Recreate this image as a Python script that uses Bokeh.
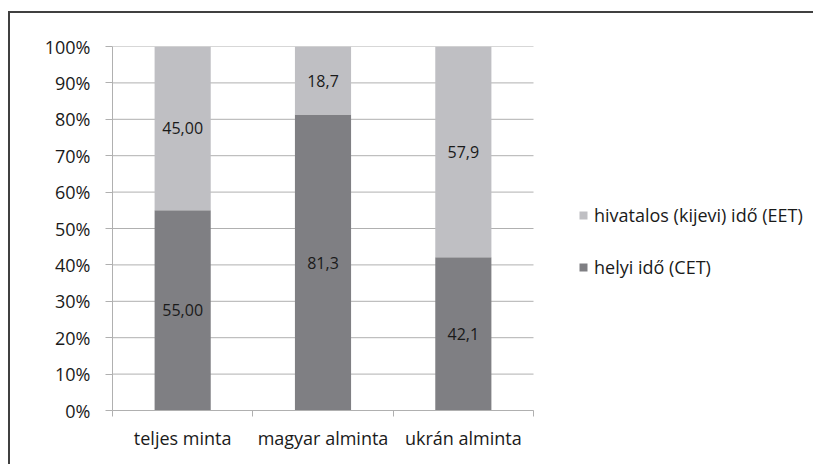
from bokeh.plotting import figure
from bokeh.models import (ColumnDataSource, FixedTicker, PrintfTickFormatter,
                          Legend, LegendItem, Range1d)
from bokeh.core.properties import value
from bokeh.embed import file_html
from bokeh.resources import INLINE

categories = ["teljes minta", "magyar alminta", "ukrán alminta"]
helyi = [55.00, 81.3, 42.1]
hivatalos = [45.00, 18.7, 57.9]
helyi_labels = ["55,00", "81,3", "42,1"]
hivatalos_labels = ["45,00", "18,7", "57,9"]
series_names = ["helyi idő (CET)", "hivatalos (kijevi) idő (EET)"]
y_ticks = [0, 10, 20, 30, 40, 50, 60, 70, 80, 90, 100]

DARK = "#7f7f83"
LIGHT = "#bfbfc3"
GRID = "#b0b0b0"
TEXT = "#1a1a1a"
FONT = "Open Sans"

n = len(categories)
xs = [i + 0.5 for i in range(n)]
src = ColumnDataSource(dict(
    x=xs, helyi=helyi, hivatalos=hivatalos,
    helyi_mid=[h / 2 for h in helyi],
    hiv_mid=[h + v / 2 for h, v in zip(helyi, hivatalos)],
    helyi_lab=helyi_labels, hiv_lab=hivatalos_labels,
))
grid_src = ColumnDataSource(dict(y=y_ticks, x0=[0] * len(y_ticks), x1=[n] * len(y_ticks)))

# plot frame widened to the right so the legend sits inside it
frame_w = 805 - 102 - 12
p = figure(width=805, height=453, output_backend="svg", toolbar_location=None,
           x_range=Range1d(0, n * frame_w / 421), y_range=Range1d(0, 100),
           min_border_left=102, min_border_right=12,
           min_border_top=33, min_border_bottom=56)
p.styles = {"box-shadow": "-2px -2px 0px 0px #404040",
            "margin-top": "13px", "margin-left": "10px"}
p.outline_line_color = None
p.background_fill_color = "white"
p.border_fill_color = "white"

p.segment(x0="x0", x1="x1", y0="y", y1="y", source=grid_src,
          line_color=GRID, line_width=1)

rs = p.vbar_stack(["helyi", "hivatalos"], x="x", width=0.4, source=src,
                  color=[DARK, LIGHT], line_color=None)

p.text(x="x", y="helyi_mid", text="helyi_lab", source=src,
       text_align="center", text_baseline="middle",
       text_font=value(FONT), text_font_size="16px", text_color=TEXT)
p.text(x="x", y="hiv_mid", text="hiv_lab", source=src,
       text_align="center", text_baseline="middle",
       text_font=value(FONT), text_font_size="16px", text_color=TEXT)

# axes
p.xaxis.bounds = (0, n)
p.xaxis.ticker = FixedTicker(ticks=xs, minor_ticks=list(range(n + 1)))
p.xaxis.major_label_overrides = {x: c for x, c in zip(xs, categories)}
p.xaxis.major_tick_in = 0
p.xaxis.major_tick_out = 0
p.xaxis.minor_tick_in = 0
p.xaxis.minor_tick_out = 6
p.xaxis.minor_tick_line_color = GRID
p.xaxis.axis_line_color = GRID
p.xaxis.major_label_standoff = 9
p.xgrid.grid_line_color = None
p.ygrid.grid_line_color = None

p.yaxis.ticker = FixedTicker(ticks=y_ticks, minor_ticks=[])
p.yaxis.formatter = PrintfTickFormatter(format="%d%%")
p.yaxis.major_tick_in = 0
p.yaxis.major_tick_out = 7
p.yaxis.major_tick_line_color = GRID
p.yaxis.axis_line_color = GRID
p.yaxis.major_label_standoff = 15

for ax in (p.xaxis[0], p.yaxis[0]):
    ax.major_label_text_font = FONT
    ax.major_label_text_font_size = "18px"
    ax.major_label_text_color = TEXT

legend = Legend(items=[LegendItem(label=series_names[1], renderers=[rs[1]]),
                       LegendItem(label=series_names[0], renderers=[rs[0]])],
                location=(466, 131), orientation="vertical",
                glyph_width=10, glyph_height=10, label_height=24,
                spacing=28, padding=0, margin=0, label_standoff=6,
                border_line_color=None, background_fill_alpha=0,
                label_text_font=FONT, label_text_font_size="18px",
                label_text_color=TEXT)
p.add_layout(legend, "center")

open("out.html", "w").write(file_html(p, INLINE))
